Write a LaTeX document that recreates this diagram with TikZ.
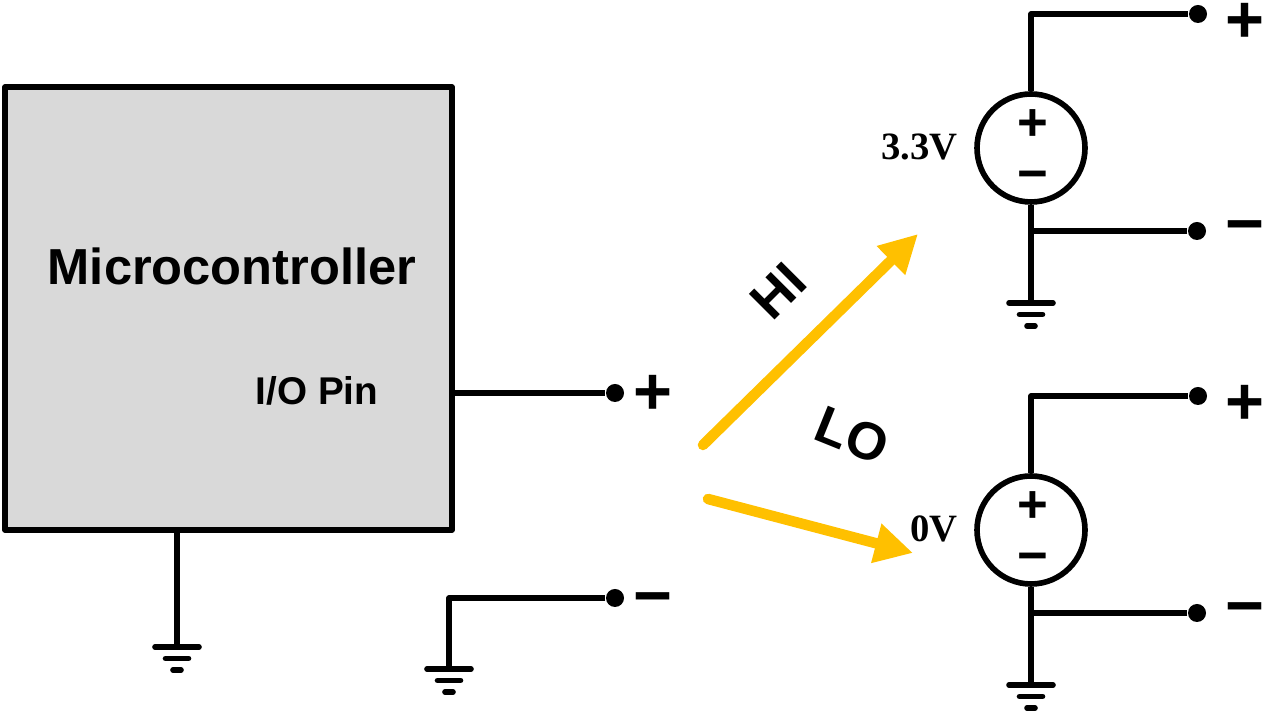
\documentclass[tikz,border=0pt]{standalone}
\usepackage{fontspec}
\setmainfont{Liberation Sans}
\newfontfamily\volfont{Liberation Serif}
\usepackage{xcolor}
\usepackage{tikz}
\usetikzlibrary{arrows.meta,positioning,calc}
\definecolor{chip}{HTML}{D9D9D9}
\definecolor{hilo}{HTML}{FFC000}
\tikzset{
    wire/.style={line width=1.6pt, line join=round},
    dot/.style={circle, fill=black, inner sep=0pt, minimum size=0.18cm},
    sign/.style={font=\fontsize{19}{19}\selectfont\bfseries, inner sep=0pt},
    inner/.style={font=\fontsize{15}{15}\selectfont\bfseries, inner sep=0pt},
    volt/.style={font=\volfont\fontsize{11}{11}\selectfont\bfseries, inner sep=0pt},
    src/.style={circle, draw, wire, minimum size=1.08cm, inner sep=0pt},
    sel/.style={hilo, line width=3pt, line cap=round, -{Triangle[length=0.38cm, width=0.38cm]}},
    gnd/.pic={\draw[wire, line cap=round] (-0.22,0) -- (0.22,0) (-0.115,-0.115) -- (0.115,-0.115) (-0.04,-0.23) -- (0.04,-0.23);}
}
\begin{document}
\begin{tikzpicture}
    \useasboundingbox (0,0) rectangle (12.65,7.11);
    \node[draw, wire, fill=chip, minimum width=4.47cm, minimum height=4.43cm] (mcu) at (2.285,4.025) {};
    \node[font=\fontsize{14.4}{14.4}\selectfont\bfseries, anchor=base] (mcuname) at (2.32,4.26) {Microcontroller};
    \node[font=\fontsize{11}{11}\selectfont\bfseries, anchor=base] (pinname) at (3.17,3.06) {I/O Pin};
    \coordinate (mcug) at (1.77,0.64);
    \draw[wire] (mcu.south -| mcug) -- (mcug);
    \pic at (mcug) {gnd};
    \node[dot] (pin) at (6.15,3.18) {};
    \node[dot] (ret) at (6.15,1.13) {};
    \node[sign] (pinplus) at ($(pin)+(0.38,-0.02)$) {+};
    \node[sign] (retminus) at ($(ret)+(0.38,-0.08)$) {−};
    \coordinate (retg) at (4.49,0.42);
    \draw[wire] (pin -| mcu.east) -- (pin);
    \draw[wire] (ret) -| (retg);
    \pic at (retg) {gnd};
    \foreach \s/\y/\v in {hi/5.63/3.3V, lo/1.81/0V} {
        \node[src] (\s) at (10.31,\y) {};
        \node[inner] (\s-in+) at ($(\s)+(0.02,0.23)$) {+};
        \node[inner] (\s-in-) at ($(\s)+(0.02,-0.33)$) {−};
        \node[volt, anchor=base east] (\s-v) at ($(\s)+(-0.73,-0.12)$) {\v};
        \node[dot] (\s-p) at ($(\s)+(1.67,1.34)$) {};
        \node[dot] (\s-m) at ($(\s)+(1.66,-0.83)$) {};
        \node[sign] (\s-plus) at ($(\s-p)+(0.47,-0.09)$) {+};
        \node[sign] (\s-minus) at ($(\s-m)+(0.48,-0.03)$) {−};
        \coordinate (\s-g) at ($(\s)+(0,-1.55)$);
        \draw[wire] (\s.north) |- (\s-p);
        \draw[wire] (\s-m) -- (\s-m -| \s);
        \draw[wire] (\s.south) -- (\s-g);
        \pic at (\s-g) {gnd};
    }
    \coordinate (hia) at (7.03,2.66);
    \coordinate (hib) at (9.18,4.77);
    \coordinate (loa) at (7.08,2.12);
    \coordinate (lob) at (9.13,1.58);
    \draw[sel] (hia) -- (hib);
    \draw[sel] (loa) -- (lob);
    \node[font=\fontsize{15}{15}\selectfont\bfseries, rotate=45] (hitext) at (7.78,4.20) {HI};
    \node[font=\fontsize{15}{15}\selectfont\bfseries, rotate=-22] (lotext) at (8.52,2.76) {LO};
\end{tikzpicture}
\end{document}
